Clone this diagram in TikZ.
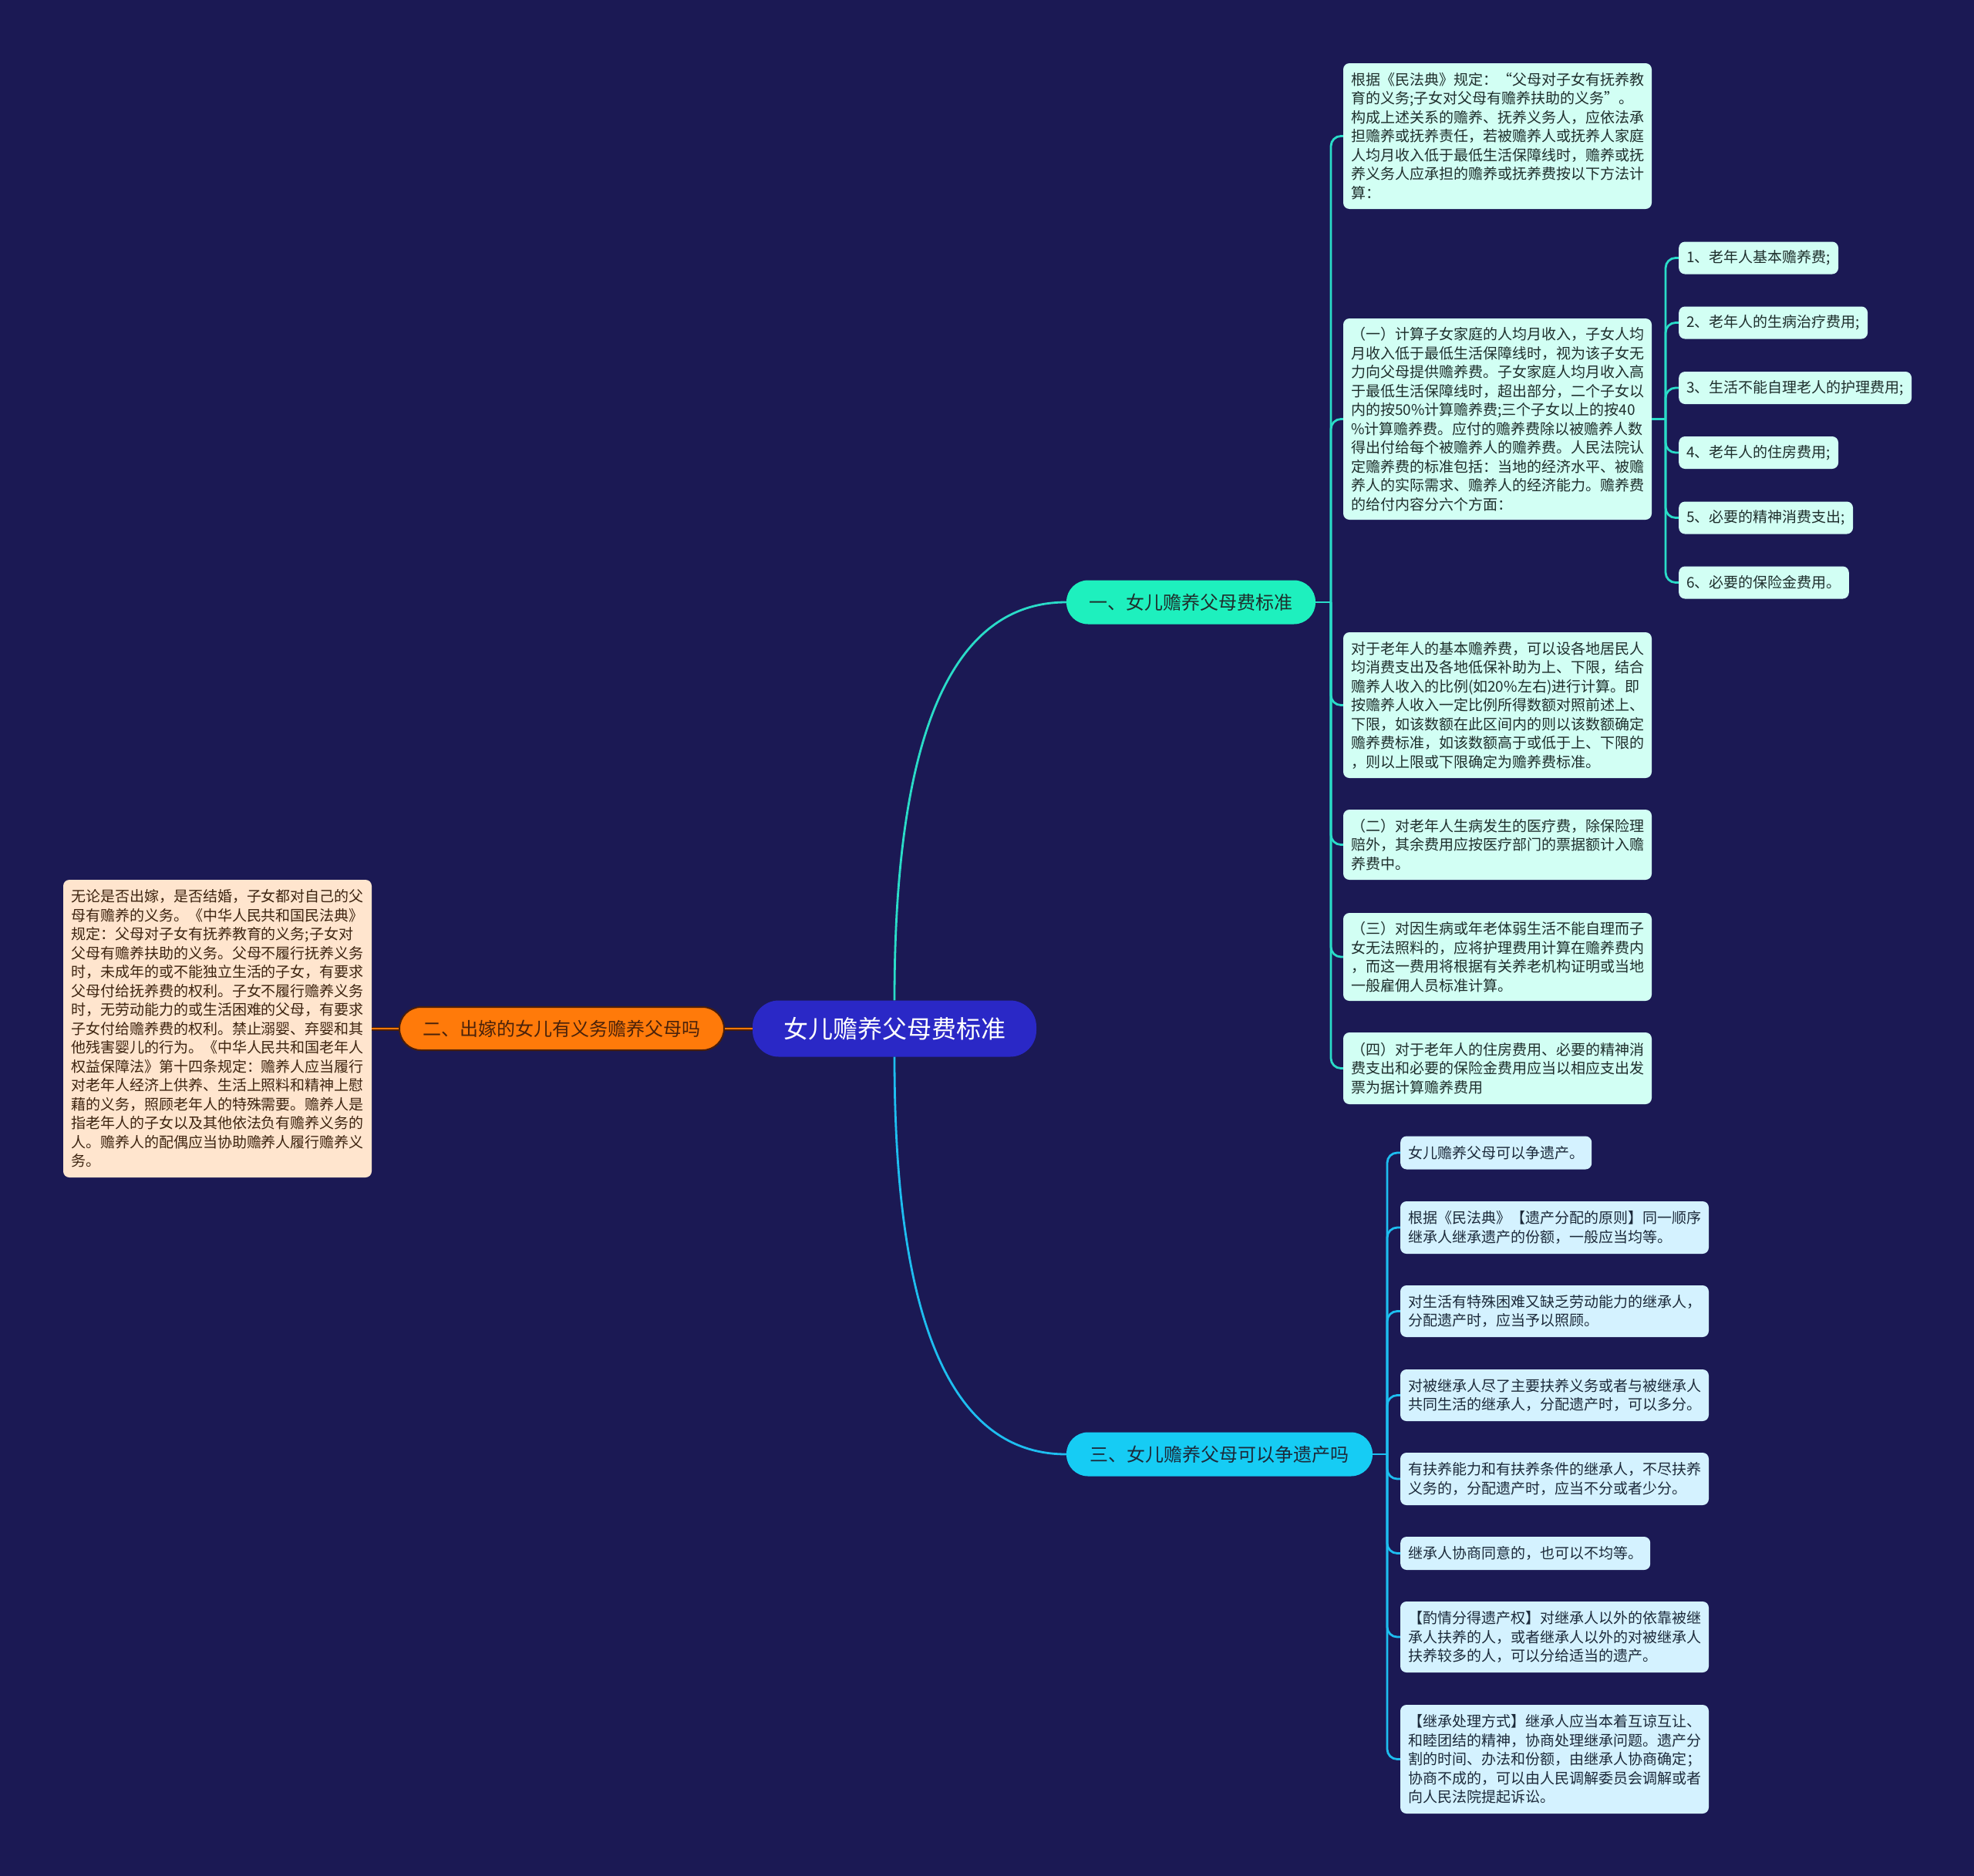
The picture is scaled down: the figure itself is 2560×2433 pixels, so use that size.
\documentclass[tikz,border=0pt]{standalone}
\usepackage{fontspec}
\setmainfont{Noto Sans CJK SC}
\definecolor{bg}{HTML}{1B1954}
\definecolor{rootfill}{HTML}{2A28C6}
\definecolor{onefill}{HTML}{1EF0BE}
\definecolor{threefill}{HTML}{16CCF4}
\definecolor{twofill}{HTML}{FF7A0A}
\definecolor{twoborder}{HTML}{4A1E0A}
\definecolor{twotext}{HTML}{4A220A}
\definecolor{peach}{HTML}{FFE5CE}
\definecolor{peachtext}{HTML}{3D2410}
\definecolor{mint}{HTML}{D2FFF4}
\definecolor{minttext}{HTML}{1E2E2C}
\definecolor{sky}{HTML}{D4F2FF}
\definecolor{skytext}{HTML}{1C2A3A}
\definecolor{tealline}{HTML}{2ADCC8}
\definecolor{cyanline}{HTML}{1EBEF0}
\tikzset{
  body/.style={font=\fontsize{19}{24.5}\selectfont},
  pill/.style={rounded corners=28, minimum height=57, inner xsep=12, inner ysep=0, font=\fontsize{24}{28}\selectfont},
  mintbox/.style={body, fill=mint, text=minttext, rounded corners=8, text width=380, inner xsep=10, inner ysep=0, align=left},
  mintitem/.style={body, fill=mint, text=minttext, rounded corners=8, inner xsep=10, inner ysep=0, minimum height=42, anchor=west},
  skybox/.style={body, fill=sky, text=skytext, rounded corners=8, text width=380, inner xsep=10, inner ysep=0, align=left},
  skyitem/.style={body, fill=sky, text=skytext, rounded corners=8, inner xsep=10, inner ysep=0, minimum height=43, anchor=west},
  tealconn/.style={draw=tealline, line width=2.8},
  cyanconn/.style={draw=cyanline, line width=2.8},
}
\begin{document}
\begin{tikzpicture}[x=1pt,y=-1pt]
\fill[bg] (0,0) rectangle (2560,2433);
\useasboundingbox (0,0) rectangle (2560,2433);

% root and main branches
\node[rounded corners=34, fill=rootfill, text=white, minimum width=368, minimum height=73, inner sep=0, font=\fontsize{32}{36}\selectfont] (root) at (1160,1334) {女儿赡养父母费标准};
\node[pill, fill=onefill, text=minttext, minimum width=323] (n1) at (1544.5,781) {一、女儿赡养父母费标准};
\node[pill, fill=threefill, text=skytext, minimum width=397] (n3) at (1581.5,1886) {三、女儿赡养父母可以争遗产吗};
\node[pill, fill=twofill, draw=twoborder, line width=2, text=twotext, minimum width=421, minimum height=56] (n2) at (728.5,1334) {二、出嫁的女儿有义务赡养父母吗};

% left box
\node[body, fill=peach, text=peachtext, rounded corners=8, text width=380, inner xsep=10, inner ysep=0, align=left, minimum height=386] (lbox) at (282,1334) {无论是否出嫁，是否结婚，子女都对自己的父\\母有赡养的义务。《中华人民共和国民法典》\\规定：父母对子女有抚养教育的义务;子女对\\父母有赡养扶助的义务。父母不履行抚养义务\\时，未成年的或不能独立生活的子女，有要求\\父母付给抚养费的权利。子女不履行赡养义务\\时，无劳动能力的或生活困难的父母，有要求\\子女付给赡养费的权利。禁止溺婴、弃婴和其\\他残害婴儿的行为。《中华人民共和国老年人\\权益保障法》第十四条规定：赡养人应当履行\\对老年人经济上供养、生活上照料和精神上慰\\藉的义务，照顾老年人的特殊需要。赡养人是\\指老年人的子女以及其他依法负有赡养义务的\\人。赡养人的配偶应当协助赡养人履行赡养义\\务。};

% group 1 boxes
\node[mintbox, minimum height=189] (a) at (1942,176.5) {根据《民法典》规定：“父母对子女有抚养教\\育的义务;子女对父母有赡养扶助的义务”。\\构成上述关系的赡养、抚养义务人，应依法承\\担赡养或抚养责任，若被赡养人或抚养人家庭\\人均月收入低于最低生活保障线时，赡养或抚\\养义务人应承担的赡养或抚养费按以下方法计\\算：};
\node[mintbox, minimum height=261] (b) at (1942,543.5) {（一）计算子女家庭的人均月收入，子女人均\\月收入低于最低生活保障线时，视为该子女无\\力向父母提供赡养费。子女家庭人均月收入高\\于最低生活保障线时，超出部分，二个子女以\\内的按50\%计算赡养费;三个子女以上的按40\\\%计算赡养费。应付的赡养费除以被赡养人数\\得出付给每个被赡养人的赡养费。人民法院认\\定赡养费的标准包括：当地的经济水平、被赡\\养人的实际需求、赡养人的经济能力。赡养费\\的给付内容分六个方面：};
\node[mintbox, minimum height=189] (c) at (1942,914.5) {对于老年人的基本赡养费，可以设各地居民人\\均消费支出及各地低保补助为上、下限，结合\\赡养人收入的比例(如20\%左右)进行计算。即\\按赡养人收入一定比例所得数额对照前述上、\\下限，如该数额在此区间内的则以该数额确定\\赡养费标准，如该数额高于或低于上、下限的\\，则以上限或下限确定为赡养费标准。};
\node[mintbox, minimum height=91] (d) at (1942,1095.5) {（二）对老年人生病发生的医疗费，除保险理\\赔外，其余费用应按医疗部门的票据额计入赡\\养费中。};
\node[mintbox, minimum height=114] (e) at (1942,1241) {（三）对因生病或年老体弱生活不能自理而子\\女无法照料的，应将护理费用计算在赡养费内\\，而这一费用将根据有关养老机构证明或当地\\一般雇佣人员标准计算。};
\node[mintbox, minimum height=93] (f) at (1942,1385.5) {（四）对于老年人的住房费用、必要的精神消\\费支出和必要的保险金费用应当以相应支出发\\票为据计算赡养费用};

% small items
\node[mintitem] (s1) at (2177,334.5) {1、老年人基本赡养费;};
\node[mintitem] (s2) at (2177,418.5) {2、老年人的生病治疗费用;};
\node[mintitem] (s3) at (2177,503) {3、生活不能自理老人的护理费用;};
\node[mintitem] (s4) at (2177,587) {4、老年人的住房费用;};
\node[mintitem] (s5) at (2177,671.5) {5、必要的精神消费支出;};
\node[mintitem] (s6) at (2177,755.5) {6、必要的保险金费用。};

% group 3 boxes
\node[skyitem] (b1) at (1816,1495) {女儿赡养父母可以争遗产。};
\node[skybox, minimum height=68] (b2) at (2016,1592) {根据《民法典》【遗产分配的原则】同一顺序\\继承人继承遗产的份额，一般应当均等。};
\node[skybox, minimum height=67] (b3) at (2016,1700.5) {对生活有特殊困难又缺乏劳动能力的继承人，\\分配遗产时，应当予以照顾。};
\node[skybox, minimum height=67] (b4) at (2016,1809.5) {对被继承人尽了主要扶养义务或者与被继承人\\共同生活的继承人，分配遗产时，可以多分。};
\node[skybox, minimum height=68] (b5) at (2016,1918) {有扶养能力和有扶养条件的继承人，不尽扶养\\义务的，分配遗产时，应当不分或者少分。};
\node[skyitem] (b6) at (1816,2014.5) {继承人协商同意的，也可以不均等。};
\node[skybox, minimum height=92] (b7) at (2016,2123) {【酌情分得遗产权】对继承人以外的依靠被继\\承人扶养的人，或者继承人以外的对被继承人\\扶养较多的人，可以分给适当的遗产。};
\node[skybox, minimum height=141] (b8) at (2016,2281.5) {【继承处理方式】继承人应当本着互谅互让、\\和睦团结的精神，协商处理继承问题。遗产分\\割的时间、办法和份额，由继承人协商确定；\\协商不成的，可以由人民调解委员会调解或者\\向人民法院提起诉讼。};

% root connectors
\draw[tealconn] (root.north) .. controls (1160,1000) and (1215,781) .. (n1.west);
\draw[cyanconn] (root.south) .. controls (1160,1668) and (1215,1886) .. (n3.west);
\draw[draw=twoborder, line width=5] (root.west) -- (n2.east);
\draw[draw=twofill, line width=2.6] (root.west) -- (n2.east);
\draw[draw=twoborder, line width=5] (n2.west) -- (lbox.east);
\draw[draw=twofill, line width=2.6] (n2.west) -- (lbox.east);

% group 1 connectors
\coordinate (h1) at (1726,781);
\draw[tealconn] (n1.east) -- (h1);
\foreach \n in {a,b,c,d,e,f} \draw[tealconn, rounded corners=13] (h1) |- (\n.west);
\coordinate (h2) at (2160,543.5);
\draw[tealconn] (b.east) -- (h2);
\foreach \n in {s1,s2,s3,s4,s5,s6} \draw[tealconn, rounded corners=13] (h2) |- (\n.west);

% group 3 connectors
\coordinate (h3) at (1799,1886);
\draw[cyanconn] (n3.east) -- (h3);
\foreach \n in {b1,b2,b3,b4,b5,b6,b7,b8} \draw[cyanconn, rounded corners=13] (h3) |- (\n.west);
\end{tikzpicture}
\end{document}
